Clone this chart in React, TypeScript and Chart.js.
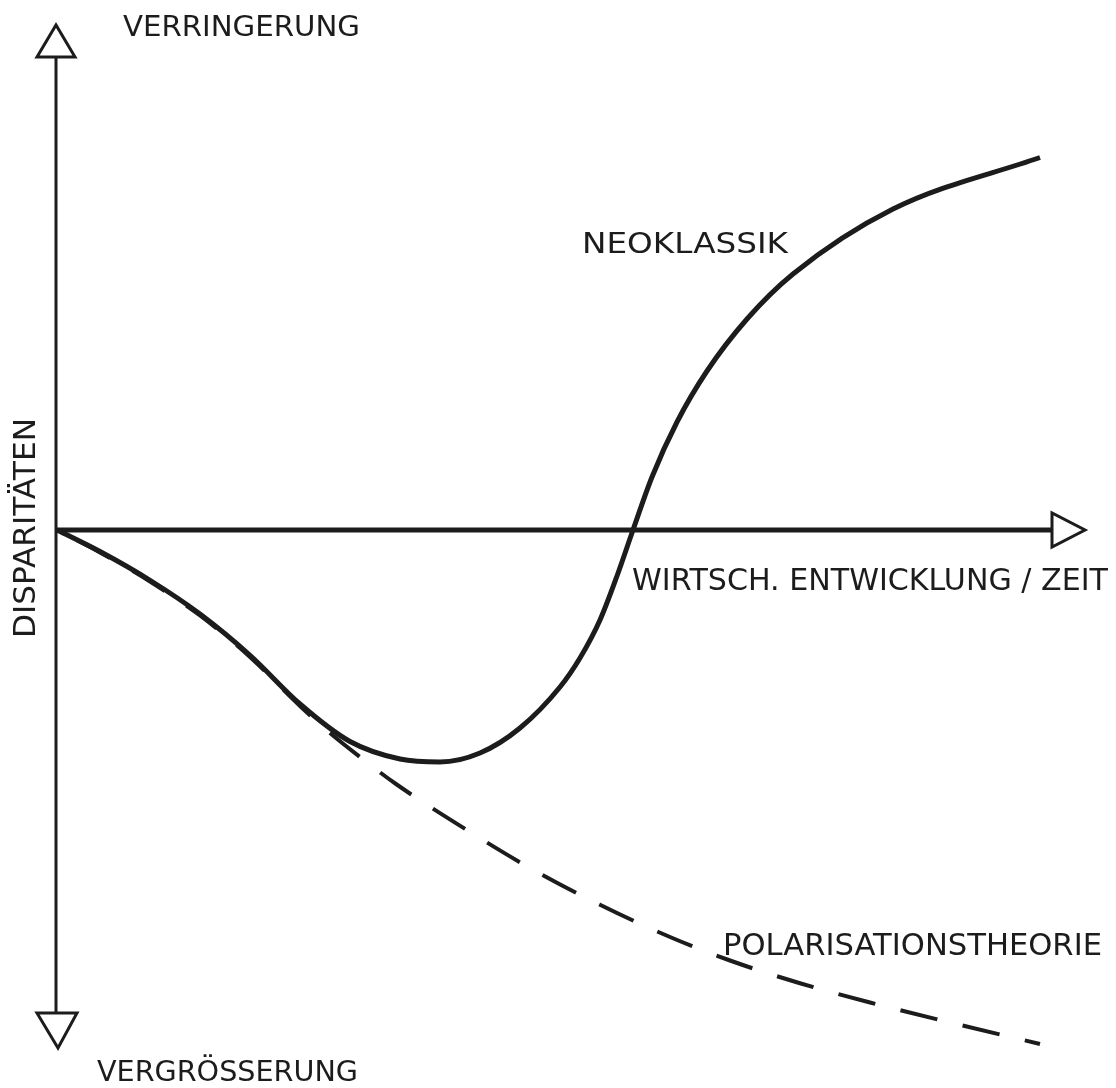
import React, { useEffect, useRef } from "react";
import { Chart, registerables } from "chart.js";

Chart.register(...registerables);

// Time axis (relative economic development, 0..100) and disparity (positive = reduction, negative = growth)
const timeNeoklassik = [0, 4.3, 9.3, 14.3, 19.3, 24.3, 29.3, 34.3, 38.3, 42.3, 46.3, 50.3, 52.3, 54.3, 56.0, 57.6, 59.5, 62.0, 65.0, 69.0, 73.6, 83.6, 98.3];
const neoklassik = [0, -4.3, -10.05, -16.8, -25.05, -34.8, -42.3, -45.8, -46.4, -44.6, -39.6, -31.4, -25.6, -18.0, -9.2, 0, 10.6, 21.6, 31.8, 42.2, 51.2, 64.2, 74.5];

const timePolarisation = [0, 4.3, 9.3, 14.3, 19.3, 24.3, 27.3, 30.3, 33.9, 41.3, 47.3, 54.3, 61.3, 67.3, 74.3, 81.3, 89.3, 98.3];
const polarisation = [0, -4.5, -10.3, -17.1, -25.4, -35.2, -40.6, -45.4, -50.8, -60.4, -67.6, -74.95, -81.4, -86.1, -90.65, -94.5, -98.5, -102.8];

const labelTop = "VERRINGERUNG";
const labelBottom = "VERGRÖSSERUNG";
const labelY = "DISPARITÄTEN";
const labelX = "WIRTSCH. ENTWICKLUNG / ZEIT";
const labelNeo = "NEOKLASSIK";
const labelPol = "POLARISATIONSTHEORIE";

const FONT = '"DejaVu Sans", sans-serif';
const INK = "#1c1c1c";

function fitText(
  ctx: CanvasRenderingContext2D,
  text: string,
  x: number,
  baseline: number,
  width: number,
  size: number,
  rotate = false
) {
  ctx.save();
  ctx.font = `${size}px ${FONT}`;
  ctx.fillStyle = INK;
  ctx.textBaseline = "alphabetic";
  ctx.textAlign = "left";
  const w = ctx.measureText(text).width;
  ctx.translate(x, baseline);
  if (rotate) ctx.rotate(-Math.PI / 2);
  ctx.scale(width / w, 1);
  ctx.fillText(text, 0, 0);
  ctx.restore();
}

const decorPlugin = {
  id: "decor",
  beforeDatasetsDraw(chart: any) {
    const ctx: CanvasRenderingContext2D = chart.ctx;
    const xs = chart.scales.x;
    const ys = chart.scales.y;
    const x0 = xs.getPixelForValue(0);
    const y0 = ys.getPixelForValue(0);
    const vx = x0 - 1;

    ctx.save();
    ctx.strokeStyle = INK;
    ctx.lineCap = "butt";

    // vertical axis
    const topBase = ys.getPixelForValue(94.6);
    const topApex = ys.getPixelForValue(101);
    const botBase = ys.getPixelForValue(-96.6);
    const botApex = ys.getPixelForValue(-103.6);
    ctx.lineWidth = 3;
    ctx.beginPath();
    ctx.moveTo(vx, topBase);
    ctx.lineTo(vx, botBase);
    ctx.stroke();

    // horizontal axis
    const arrowStart = xs.getPixelForValue(99.5);
    const arrowTip = xs.getPixelForValue(102.8);
    ctx.lineWidth = 5;
    ctx.beginPath();
    ctx.moveTo(x0 - 2, y0);
    ctx.lineTo(arrowStart, y0);
    ctx.stroke();

    // arrow heads (hollow triangles)
    ctx.lineWidth = 3;
    ctx.lineJoin = "miter";
    ctx.fillStyle = "#ffffff";
    ctx.beginPath();
    ctx.moveTo(vx - 19, topBase);
    ctx.lineTo(vx + 19, topBase);
    ctx.lineTo(vx, topApex);
    ctx.closePath();
    ctx.fill();
    ctx.stroke();

    ctx.beginPath();
    ctx.moveTo(vx - 19, botBase);
    ctx.lineTo(vx + 21, botBase);
    ctx.lineTo(vx + 2, botApex);
    ctx.closePath();
    ctx.fill();
    ctx.stroke();

    ctx.beginPath();
    ctx.moveTo(arrowStart, y0 - 17);
    ctx.lineTo(arrowStart, y0 + 17);
    ctx.lineTo(arrowTip, y0);
    ctx.closePath();
    ctx.fill();
    ctx.stroke();
    ctx.restore();

    // labels
    fitText(ctx, labelTop, 123, 36, 237, 29);
    fitText(ctx, labelBottom, 97, 1081, 261, 28);
    fitText(ctx, labelY, 35, 638, 220, 30, true);
    fitText(ctx, labelX, 632, 590, 476, 30);
    fitText(ctx, labelNeo, 582, 253, 206, 28);
    fitText(ctx, labelPol, 723, 955, 379, 30);
  },
};

export default function App() {
  const ref = useRef<HTMLCanvasElement | null>(null);

  useEffect(() => {
    if (!ref.current) return;
    document.body.style.margin = "0";
    document.body.style.background = "#ffffff";
    const chart = new Chart(ref.current, {
      type: "line",
      data: {
        datasets: [
          {
            label: "Neoklassik",
            data: timeNeoklassik.map((t, i) => ({ x: t, y: neoklassik[i] })),
            borderColor: INK,
            borderWidth: 5,
            pointRadius: 0,
            cubicInterpolationMode: "monotone",
            fill: false,
            clip: false as any,
          },
          {
            label: "Polarisationstheorie",
            data: timePolarisation.map((t, i) => ({ x: t, y: polarisation[i] })),
            borderColor: INK,
            borderWidth: 4,
            borderDash: [38, 26],
            borderDashOffset: 42,
            pointRadius: 0,
            cubicInterpolationMode: "monotone",
            fill: false,
            clip: false as any,
          },
        ],
      },
      options: {
        animation: false,
        responsive: false,
        devicePixelRatio: 1,
        layout: { padding: { left: 57, right: 59, top: 30, bottom: 28 } },
        plugins: {
          legend: { display: false },
          tooltip: { enabled: false },
          title: { display: false },
        },
        scales: {
          x: { type: "linear", min: 0, max: 100, display: false },
          y: { type: "linear", min: -106, max: 100, display: false },
        },
      },
      plugins: [decorPlugin],
    });
    return () => chart.destroy();
  }, []);

  return (
    <div style={{ position: "fixed", left: 0, top: 0, width: 1116, height: 1088, background: "#ffffff" }}>
      <canvas ref={ref} width={1116} height={1088} style={{ display: "block" }} />
    </div>
  );
}
